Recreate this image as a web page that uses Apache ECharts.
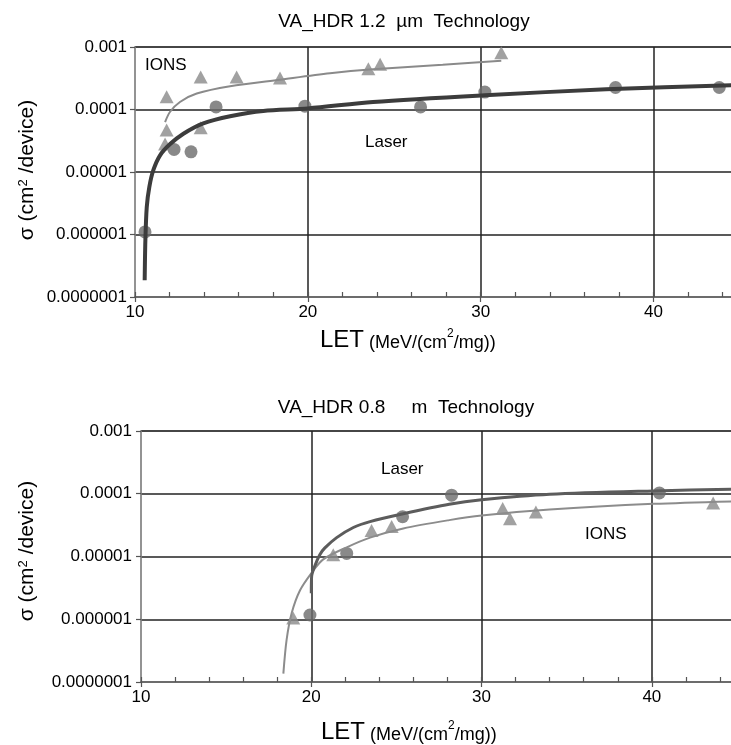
<!DOCTYPE html>
<html>
<head>
<meta charset="utf-8">
<script src="https://cdn.jsdelivr.net/npm/echarts@6/dist/echarts.min.js"></script>
<style>
html,body{margin:0;padding:0;background:#fff;overflow:hidden;}
#c{width:731px;height:745px;}
</style>
</head>
<body>
<div id="c"></div>
<script>
// ---------- data ----------
const xTickLabels = ['10', '20', '30', '40'];
const yTickLabels = ['0.0000001', '0.000001', '0.00001', '0.0001', '0.001'];

const topTitle = 'VA_HDR 1.2  \u00b5m  Technology';
const botTitle = 'VA_HDR 0.8     m  Technology';

// Top chart (1.2 um)
const topLaserX = [10.58, 12.26, 13.24, 14.69, 19.83, 26.52, 30.24, 37.8, 43.8];
const topLaserY = [1.1e-6, 2.3e-5, 2.1e-5, 1.1e-4, 1.13e-4, 1.1e-4, 1.9e-4, 2.25e-4, 2.25e-4];
const topIonsX = [11.83, 11.83, 11.74, 13.8, 13.8, 15.88, 18.39, 23.5, 24.18, 31.19];
const topIonsY = [1.6e-4, 4.7e-5, 2.8e-5, 3.3e-4, 5.1e-5, 3.3e-4, 3.2e-4, 4.5e-4, 5.3e-4, 8.1e-4];
const topLaserFitX = [10.56, 10.6, 10.68, 10.83, 11.06, 11.45, 12.03, 12.8, 13.95, 15.5, 17.42, 20.0, 23.77, 30.24, 37.25, 45];
const topLaserFitY = [1.85e-7, 8.1e-7, 2.75e-6, 5.8e-6, 1.07e-5, 1.85e-5, 2.8e-5, 4.1e-5, 6.0e-5, 7.8e-5, 9.5e-5, 1.04e-4, 1.32e-4, 1.69e-4, 2.1e-4, 2.47e-4];
const topIonsFitX = [11.74, 12.03, 12.6, 13.57, 15.5, 18.39, 21.28, 23.77, 27.8, 31.19];
const topIonsFitY = [6.3e-5, 9.2e-5, 1.32e-4, 1.8e-4, 2.35e-4, 3.0e-4, 3.8e-4, 4.4e-4, 5.2e-4, 6.0e-4];

// Bottom chart (0.8 um)
const botLaserX = [19.92, 22.08, 25.36, 28.24, 40.44];
const botLaserY = [1.17e-6, 1.12e-5, 4.3e-5, 9.5e-5, 1.03e-4];
const botIonsX = [18.94, 21.29, 23.54, 24.72, 31.24, 31.67, 33.19, 43.6];
const botIonsY = [1.05e-6, 1.07e-5, 2.6e-5, 3.0e-5, 5.8e-5, 4.0e-5, 5.1e-5, 7.1e-5];
const botLaserFitX = [20.0, 20.02, 20.2, 20.5, 20.8, 21.49, 22.47, 23.45, 25.4, 28.1, 30.0, 34.0, 40.1, 45];
const botLaserFitY = [2.6e-6, 4.8e-6, 7.0e-6, 1.07e-5, 1.37e-5, 2.0e-5, 2.9e-5, 3.6e-5, 4.8e-5, 6.8e-5, 8.0e-5, 9.8e-5, 1.11e-4, 1.18e-4];
const botIonsFitX = [18.36, 18.55, 18.85, 19.34, 20.02, 20.7, 22.08, 23.45, 25.4, 28.1, 30.0, 34.0, 40.1, 45];
const botIonsFitY = [1.36e-7, 4.7e-7, 1.26e-6, 2.9e-6, 5.5e-6, 9.0e-6, 1.4e-5, 2.0e-5, 2.8e-5, 3.8e-5, 4.5e-5, 5.6e-5, 6.9e-5, 7.6e-5];

// ---------- helpers ----------
const zip = (xs, ys) => xs.map((x, i) => [x, ys[i]]);
const FONT = 'Liberation Sans, Arial, sans-serif';
const TXT = '#000';

function xAxisMain(gi) {
  return {
    type: 'value', gridIndex: gi, min: 10, max: 45, interval: 10, position: 'bottom',
    axisLine: { show: true, lineStyle: { color: '#555', width: 1.5 } },
    axisTick: { show: true, inside: false, length: 5, lineStyle: { color: '#555', width: 1.2 } },
    axisLabel: {
      margin: 7, color: TXT, fontSize: 17, fontFamily: FONT,
      formatter: v => (xTickLabels.indexOf(String(v)) >= 0 ? String(v) : '')
    },
    splitLine: { show: true, showMinLine: false, showMaxLine: false, lineStyle: { color: '#222', width: 1.5 } }
  };
}
function xAxisMinor(gi) {
  return {
    type: 'value', gridIndex: gi, min: 10, max: 45, interval: 2, position: 'bottom',
    axisLine: { show: false },
    axisTick: { show: true, inside: true, length: 5, lineStyle: { color: '#555', width: 1.2 } },
    axisLabel: { show: false },
    splitLine: { show: false }
  };
}
function yAxis(gi, margin) {
  return {
    type: 'log', logBase: 10, gridIndex: gi, min: 1e-7, max: 1e-3,
    axisLine: { show: true, lineStyle: { color: '#888', width: 1.5 } },
    axisTick: { show: true, inside: false, length: 5, lineStyle: { color: '#555', width: 1.2 } },
    axisLabel: {
      margin: margin, color: TXT, fontSize: 17, fontFamily: FONT,
      formatter: v => { const i = Math.round(Math.log10(v)) + 7; return yTickLabels[i] || ''; }
    },
    splitLine: { show: true, showMinLine: false, showMaxLine: false, lineStyle: { color: '#222', width: 1.5 } }
  };
}

const circleStyle = { color: '#6b6b6b' };
const triStyle = { color: '#8a8a8a' };

function yName(y) {
  return { type: 'text', x: 27, y: y, rotation: Math.PI / 2, style: {
    text: '{a|\u03c3 (cm}{s|2}{a| /device)}', align: 'center', verticalAlign: 'middle', fill: TXT,
    rich: { a: { fontSize: 21, fontFamily: FONT, fill: TXT, verticalAlign: 'bottom' },
            s: { fontSize: 13, fontFamily: FONT, fill: TXT, verticalAlign: 'top' } } } };
}
function xName(x, y) {
  return { type: 'text', x: x, y: y, style: {
    text: '{a|LET}{b| (MeV/(cm}{s|2}{b|/mg))}', align: 'left', verticalAlign: 'bottom', fill: TXT,
    rich: { a: { fontSize: 24, fontFamily: FONT, fill: TXT, verticalAlign: 'bottom' },
            b: { fontSize: 18, fontFamily: FONT, fill: TXT, verticalAlign: 'bottom', padding: [0, 0, 0, 0] },
            s: { fontSize: 12, fontFamily: FONT, fill: TXT, verticalAlign: 'top' } } } };
}
function note(text, x, y) {
  return { type: 'text', x: x, y: y, style: { text: text, font: '17px ' + FONT, fill: TXT, align: 'left', verticalAlign: 'middle' } };
}

const option = {
  animation: false,
  backgroundColor: '#fff',
  grid: [
    { left: 135, top: 47, width: 605, height: 250, show: true, borderColor: '#999', borderWidth: 1.5, backgroundColor: 'transparent', containLabel: false, outerBoundsMode: 'none' },
    { left: 141, top: 431, width: 596, height: 251, show: true, borderColor: '#999', borderWidth: 1.5, backgroundColor: 'transparent', containLabel: false, outerBoundsMode: 'none' }
  ],
  xAxis: [xAxisMain(0), xAxisMain(1), xAxisMinor(0), xAxisMinor(1)],
  yAxis: [yAxis(0, 8), yAxis(1, 9)],
  series: [
    { type: 'scatter', xAxisIndex: 0, yAxisIndex: 0, symbol: 'circle', symbolSize: 13, itemStyle: circleStyle, data: zip(topLaserX, topLaserY), z: 2 },
    { type: 'scatter', xAxisIndex: 0, yAxisIndex: 0, symbol: 'triangle', symbolSize: [14, 13], itemStyle: triStyle, data: zip(topIonsX, topIonsY), z: 2 },
    { type: 'line', xAxisIndex: 0, yAxisIndex: 0, showSymbol: false, smooth: 0.3, lineStyle: { color: '#3c3c3c', width: 4 }, data: zip(topLaserFitX, topLaserFitY), z: 3 },
    { type: 'line', xAxisIndex: 0, yAxisIndex: 0, showSymbol: false, smooth: 0.3, lineStyle: { color: '#8a8a8a', width: 2 }, data: zip(topIonsFitX, topIonsFitY), z: 3 },

    { type: 'scatter', xAxisIndex: 1, yAxisIndex: 1, symbol: 'circle', symbolSize: 13, itemStyle: circleStyle, data: zip(botLaserX, botLaserY), z: 2 },
    { type: 'scatter', xAxisIndex: 1, yAxisIndex: 1, symbol: 'triangle', symbolSize: [14, 13], itemStyle: triStyle, data: zip(botIonsX, botIonsY), z: 2 },
    { type: 'line', xAxisIndex: 1, yAxisIndex: 1, showSymbol: false, smooth: 0.3, lineStyle: { color: '#8c8c8c', width: 2 }, data: zip(botIonsFitX, botIonsFitY), z: 3 },
    { type: 'line', xAxisIndex: 1, yAxisIndex: 1, showSymbol: false, smooth: 0.3, lineStyle: { color: '#5c5c5c', width: 3 }, data: zip(botLaserFitX, botLaserFitY), z: 3 }
  ],
  graphic: [
    { type: 'text', x: 404, y: 22, style: { text: topTitle, font: '19px ' + FONT, fill: TXT, align: 'center', verticalAlign: 'middle' } },
    { type: 'text', x: 406, y: 408, style: { text: botTitle, font: '19px ' + FONT, fill: TXT, align: 'center', verticalAlign: 'middle' } },
    note('IONS', 145, 65),
    note('Laser', 365, 142),
    note('Laser', 381, 469),
    note('IONS', 585, 534),
    yName(170),
    yName(551),
    xName(320, 352),
    xName(321, 744)
  ]
};

const chart = echarts.init(document.getElementById('c'), null, { renderer: 'canvas' });
chart.setOption(option);
</script>
</body>
</html>
